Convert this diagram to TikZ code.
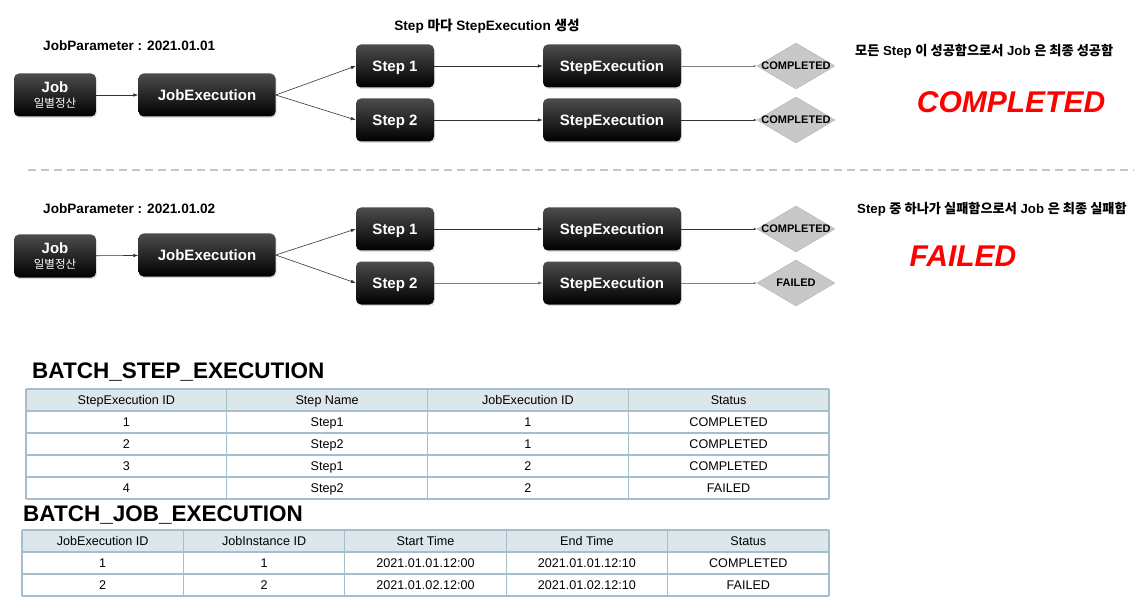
\documentclass[tikz,border=0pt]{standalone}
\usepackage{fontspec}
\setmainfont{Liberation Sans}
\newfontfamily\kr{Noto Sans CJK KR}
\usetikzlibrary{shapes.geometric,arrows.meta,shadows}
\definecolor{headfill}{RGB}{220,231,236}
\definecolor{tabline}{RGB}{166,190,204}
\definecolor{diafill}{RGB}{200,200,200}

\begin{document}
\begin{tikzpicture}[x=1pt,y=-1pt,
    box/.style={rounded corners=5pt,top color=black!70,bottom color=black,text=white,
                font=\bfseries\fontsize{15}{17}\selectfont,minimum height=43pt,inner sep=0pt,align=center,
                drop shadow={opacity=0.25,shadow xshift=1pt,shadow yshift=-1.5pt}},
    status/.style={diamond,aspect=1.7,fill=diafill,draw=gray!60,minimum width=78pt,minimum height=46pt,
                   inner xsep=-5pt,inner ysep=-1pt,text depth=0pt,font=\bfseries\fontsize{11}{12}\selectfont},
    conn/.style={-{Latex[length=5pt,width=3.5pt]},draw=black!80,line width=0.6pt},
    done/.style={-{Latex[length=3pt,width=2.5pt]},draw=gray,line width=0.7pt},
    note/.style={font=\bfseries\fontsize{13.6}{15}\selectfont,inner sep=0pt},
    result/.style={text=red,font=\bfseries\itshape\fontsize{30}{34}\selectfont,inner sep=0pt},
    tabtitle/.style={font=\bfseries\fontsize{22.5}{26}\selectfont,inner sep=0pt,anchor=west},
    cell/.style={font=\fontsize{12.6}{14}\selectfont,inner sep=0pt,text height=9pt,text depth=2.5pt}]

  \useasboundingbox (0,0) rectangle (1134,612);

  % first run: every step completed
  \node[note,anchor=west] (param1) at (43,46) {JobParameter : 2021.01.01};
  \node[note] (stepnote) at (487,26) {Step {\kr 마다} StepExecution {\kr 생성}};
  \node[box,minimum width=82pt] (job1) at (55,95) {Job\\[-2pt]{\kr\mdseries\fontsize{11.5}{13}\selectfont 일별정산}};
  \node[box,minimum width=137pt,text depth=0pt] (jobexec1) at (207,95) {JobExecution};
  \node[box,minimum width=78pt,text depth=0pt] (step11) at (395,66) {Step 1};
  \node[box,minimum width=78pt,text depth=0pt] (step12) at (395,120) {Step 2};
  \node[box,minimum width=138pt,text depth=0pt] (stepexec11) at (612,66) {StepExecution};
  \node[box,minimum width=138pt,text depth=0pt] (stepexec12) at (612,120) {StepExecution};
  \node[status] (stat11) at (796,66) {COMPLETED};
  \node[status] (stat12) at (796,120) {COMPLETED};
  \node[note,anchor=west,font=\bfseries\fontsize{13.2}{15}\selectfont] (msg1) at (855,51) {{\kr 모든} Step {\kr 이 성공함으로서} Job {\kr 은 최종 성공함}};
  \node[result] (res1) at (1011,102) {COMPLETED};

  \draw[conn] (job1) -- (jobexec1);
  \draw[conn] (jobexec1.east) -- (step11.west);
  \draw[conn] (jobexec1.east) -- (step12.west);
  \draw[conn] (step11) -- (stepexec11);
  \draw[conn] (step12) -- (stepexec12);
  \draw[done] (stepexec11) -- (stat11);
  \draw[done,draw=black!80] (stepexec12) -- (stat12);

  \draw[gray!45,line width=2.5pt,dash pattern=on 8pt off 5pt] (28,170) -- (1134,170);

  % second run: one step failed
  \node[note,anchor=west] (param2) at (43,209) {JobParameter : 2021.01.02};
  \node[box,minimum width=82pt] (job2) at (55,256) {Job\\[-2pt]{\kr\mdseries\fontsize{11.5}{13}\selectfont 일별정산}};
  \node[box,minimum width=137pt,text depth=0pt] (jobexec2) at (207,255) {JobExecution};
  \node[box,minimum width=78pt,text depth=0pt] (step21) at (395,229) {Step 1};
  \node[box,minimum width=78pt,text depth=0pt] (step22) at (395,283) {Step 2};
  \node[box,minimum width=138pt,text depth=0pt] (stepexec21) at (612,229) {StepExecution};
  \node[box,minimum width=138pt,text depth=0pt] (stepexec22) at (612,283) {StepExecution};
  \node[status] (stat21) at (796,229) {COMPLETED};
  \node[status] (stat22) at (796,283) {FAILED};
  \node[note,anchor=west,font=\bfseries\fontsize{13.2}{15}\selectfont] (msg2) at (857,209) {Step {\kr 중 하나가 실패함으로서} Job {\kr 은 최종 실패함}};
  \node[result] (res2) at (963,256) {FAILED};

  \draw[conn] (job2) -- (jobexec2);
  \draw[conn] (jobexec2.east) -- (step21.west);
  \draw[conn] (jobexec2.east) -- (step22.west);
  \draw[conn] (step21) -- (stepexec21);
  \draw[conn,draw=gray] (step22) -- (stepexec22);
  \draw[done,draw=black!80] (stepexec21) -- (stat21);
  \draw[done] (stepexec22) -- (stat22);

  % BATCH_STEP_EXECUTION
  \node[tabtitle] (steptable) at (32,372) {BATCH\_STEP\_EXECUTION};
  \fill[headfill] (26,389) rectangle (829,411);
  \foreach \y in {389,411,...,499}
    \draw[tabline,line width=1.2pt] (26,\y) -- (829,\y);
  \foreach \x in {26,226.75,427.5,628.25,829}
    \draw[tabline,line width=1.2pt] (\x,389) -- (\x,499);
  \foreach \r/\a/\b/\c/\d in {0/StepExecution ID/Step Name/JobExecution ID/Status,
      1/1/Step1/1/COMPLETED,2/2/Step2/1/COMPLETED,3/3/Step1/2/COMPLETED,4/4/Step2/2/FAILED} {
    \node[cell] (se-\r-1) at (126.4,401.5+22*\r) {\a};
    \node[cell] (se-\r-2) at (327.1,401.5+22*\r) {\b};
    \node[cell] (se-\r-3) at (527.9,401.5+22*\r) {\c};
    \node[cell] (se-\r-4) at (728.6,401.5+22*\r) {\d};
  }

  % BATCH_JOB_EXECUTION
  \node[tabtitle] (jobtable) at (23,515) {BATCH\_JOB\_EXECUTION};
  \fill[headfill] (22,530) rectangle (829,552);
  \foreach \y in {530,552,574,596}
    \draw[tabline,line width=1.2pt] (22,\y) -- (829,\y);
  \foreach \x in {22,183.4,344.8,506.2,667.6,829}
    \draw[tabline,line width=1.2pt] (\x,530) -- (\x,596);
  \foreach \r/\a/\b/\c/\d/\e in {0/JobExecution ID/JobInstance ID/Start Time/End Time/Status,
      1/1/1/2021.01.01.12:00/2021.01.01.12:10/COMPLETED,2/2/2/2021.01.02.12:00/2021.01.02.12:10/FAILED} {
    \node[cell] (je-\r-1) at (102.7,542.5+22*\r) {\a};
    \node[cell] (je-\r-2) at (264.1,542.5+22*\r) {\b};
    \node[cell] (je-\r-3) at (425.5,542.5+22*\r) {\c};
    \node[cell] (je-\r-4) at (586.9,542.5+22*\r) {\d};
    \node[cell] (je-\r-5) at (748.3,542.5+22*\r) {\e};
  }
\end{tikzpicture}
\end{document}
